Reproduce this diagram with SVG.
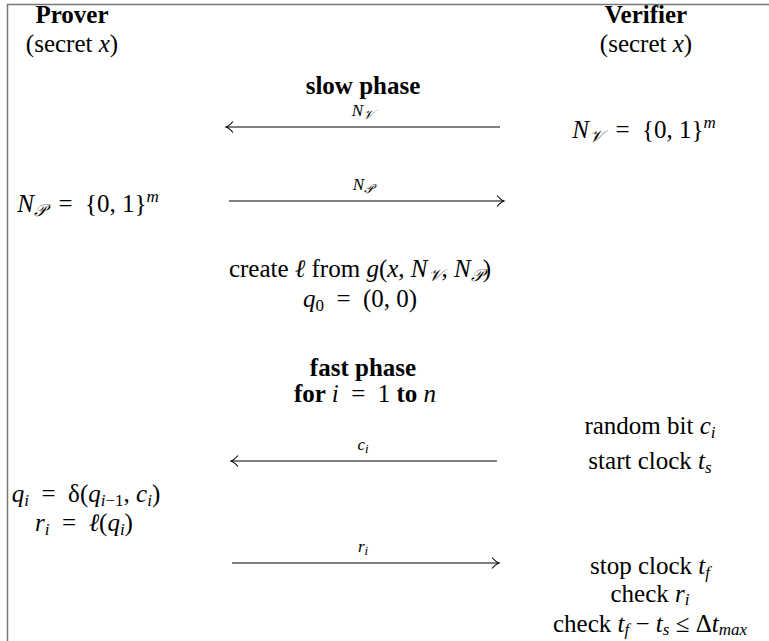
<svg xmlns="http://www.w3.org/2000/svg" width="769" height="641" viewBox="0 0 769 641">
<style>
text{font-family:"Liberation Serif","DejaVu Serif",serif;font-size:25px;fill:#000;text-anchor:middle}
.b{font-weight:bold}
.i{font-style:italic}
.s{font-size:17px}
.lbl{font-size:17px}
.frame{stroke:#777;stroke-width:1.5;fill:none}
.arr{stroke:#000;stroke-width:1.1;fill:none}
.hd{stroke:#000;stroke-width:1.1;fill:none}
</style>
<defs>
<marker id="ah" viewBox="-10 -6 12 12" refX="0" refY="0" markerWidth="12" markerHeight="12" markerUnits="userSpaceOnUse" orient="auto">
<path d="M-7,-5.5 Q-3,-1 0,0 Q-3,1 -7,5.5" class="hd"/>
</marker>
</defs>
<rect width="769" height="641" fill="#fff"/>
<path class="frame" d="M7.5,641 V4.5 H769"/>
<g id="prover">
<text class="b" x="72" y="23">Prover</text>
<text x="72" y="52">(secret <tspan class="i">x</tspan>)</text>
</g>
<g id="verifier">
<text class="b" x="646" y="23">Verifier</text>
<text x="646" y="52">(secret <tspan class="i">x</tspan>)</text>
</g>
<g id="slow-phase">
<text class="b" x="363" y="94">slow phase</text>
</g>
<g id="nv-def">
<text x="644" y="138"><tspan class="i">N</tspan><tspan class="s i" dy="4">𝒱</tspan><tspan dy="-4">&#160;&#160;=&#160;&#160;{0,&#160;1}</tspan><tspan class="s i" dy="-10">m</tspan></text>
</g>
<g id="np-def">
<text x="88" y="212"><tspan class="i">N</tspan><tspan class="s i" dy="4">𝒫</tspan><tspan dy="-4">&#160;&#160;=&#160;&#160;{0,&#160;1}</tspan><tspan class="s i" dy="-10">m</tspan></text>
</g>
<g id="create">
<text x="360" y="277">create <tspan class="i">ℓ</tspan> from <tspan class="i">g</tspan>(<tspan class="i">x</tspan>, <tspan class="i">N</tspan><tspan class="s i" dy="4">𝒱</tspan><tspan dy="-4">, </tspan><tspan class="i">N</tspan><tspan class="s i" dy="4">𝒫</tspan><tspan dy="-4">)</tspan></text>
<text x="360" y="307"><tspan class="i">q</tspan><tspan class="s" dy="4">0</tspan><tspan dy="-4">&#160;&#160;=&#160;&#160;(0,&#160;0)</tspan></text>
</g>
<g id="fast-phase">
<text class="b" x="363" y="376">fast phase</text>
<text x="365" y="402"><tspan class="b">for </tspan><tspan class="i">i</tspan>&#160;&#160;=&#160;&#160;1 <tspan class="b">to </tspan><tspan class="i">n</tspan></text>
</g>
<g id="verifier-challenge">
<text x="650" y="434">random bit <tspan class="i">c</tspan><tspan class="s i" dy="4">i</tspan></text>
<text x="650" y="469">start clock <tspan class="i">t</tspan><tspan class="s i" dy="4">s</tspan></text>
</g>
<g id="prover-response">
<text x="86" y="502"><tspan class="i">q</tspan><tspan class="s i" dy="4">i</tspan><tspan dy="-4">&#160;&#160;=&#160;&#160;δ(</tspan><tspan class="i">q</tspan><tspan class="s" dy="4"><tspan class="i">i</tspan>−1</tspan><tspan dy="-4">,&#160;</tspan><tspan class="i">c</tspan><tspan class="s i" dy="4">i</tspan><tspan dy="-4">)</tspan></text>
<text x="84" y="531"><tspan class="i">r</tspan><tspan class="s i" dy="4">i</tspan><tspan dy="-4">&#160;&#160;=&#160;&#160;</tspan><tspan class="i">ℓ</tspan>(<tspan class="i">q</tspan><tspan class="s i" dy="4">i</tspan><tspan dy="-4">)</tspan></text>
</g>
<g id="verifier-check">
<text x="650" y="574">stop clock <tspan class="i">t</tspan><tspan class="s i" dy="4">f</tspan></text>
<text x="650" y="602">check <tspan class="i">r</tspan><tspan class="s i" dy="3">i</tspan></text>
<text x="650" y="632">check <tspan class="i">t</tspan><tspan class="s i" dy="3">f</tspan><tspan dy="-3">&#160;−&#160;</tspan><tspan class="i">t</tspan><tspan class="s i" dy="3">s</tspan><tspan dy="-3">&#160;≤&#160;Δ</tspan><tspan class="i">t</tspan><tspan class="s i" dy="3">max</tspan></text>
</g>
<g id="connectors">
<line class="arr" x1="500" y1="127" x2="226" y2="127" marker-end="url(#ah)"/>
<text class="lbl i" x="363" y="116">N<tspan font-size="13" dy="3">𝒱</tspan></text>
<line class="arr" x1="229" y1="201" x2="504" y2="201" marker-end="url(#ah)"/>
<text class="lbl i" x="363" y="190">N<tspan font-size="13" dy="3">𝒫</tspan></text>
<line class="arr" x1="497" y1="461" x2="231" y2="461" marker-end="url(#ah)"/>
<text class="lbl i" x="363" y="450">c<tspan font-size="13" dy="3">i</tspan></text>
<line class="arr" x1="232" y1="563" x2="499" y2="563" marker-end="url(#ah)"/>
<text class="lbl i" x="363" y="552">r<tspan font-size="13" dy="3">i</tspan></text>
</g>
</svg>
